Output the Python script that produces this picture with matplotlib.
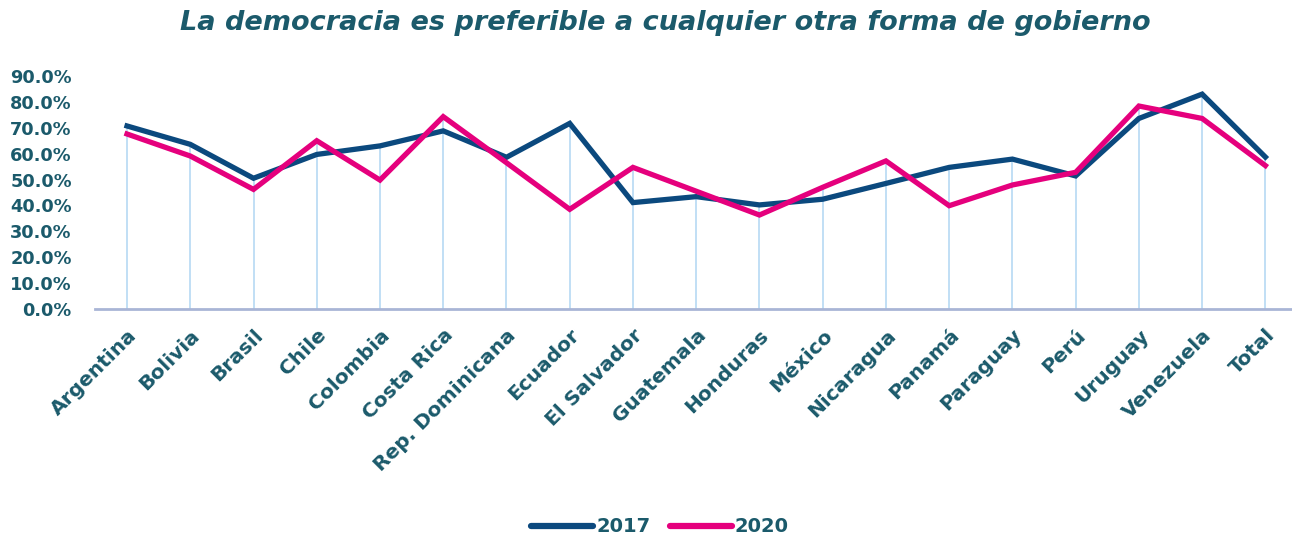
import matplotlib
matplotlib.use("Agg")
import matplotlib.pyplot as plt
from matplotlib.ticker import FuncFormatter
from matplotlib.lines import Line2D

plt.rcParams['font.family'] = ['DejaVu Sans']

countries = ["Argentina", "Bolivia", "Brasil", "Chile", "Colombia", "Costa Rica",
             "Rep. Dominicana", "Ecuador", "El Salvador", "Guatemala", "Honduras",
             "México", "Nicaragua", "Panamá", "Paraguay", "Perú", "Uruguay",
             "Venezuela", "Total"]
v2017 = [70.7, 63.6, 50.5, 59.7, 63.0, 68.8, 58.6, 71.7, 41.1, 43.4, 40.2,
         42.4, 48.5, 54.7, 57.9, 51.4, 73.6, 83.0, 58.7]
v2020 = [67.6, 59.1, 46.2, 65.0, 49.8, 74.3, 56.5, 38.5, 54.7, 45.5, 36.3,
         47.0, 57.2, 39.9, 47.9, 52.8, 78.4, 73.6, 55.4]
yticks = [0, 10, 20, 30, 40, 50, 60, 70, 80, 90]
series_names = ["2017", "2020"]

TEXT = "#1B5A6B"
BLUE = "#0B497E"
PINK = "#E5007D"
DROP = "#BCDCF5"
AXIS = "#A9B5D6"

W, H = 1292, 537
fig = plt.figure(figsize=(W / 100, H / 100), dpi=100)
x0, x1 = 95.4, 1297.0
yb, yt = 309.0, 76.0
ax = fig.add_axes([x0 / W, (H - yb) / H, (x1 - x0) / W, (yb - yt) / H])

xs = list(range(len(countries)))
tops = [max(a, b) for a, b in zip(v2017, v2020)]
ax.vlines(xs, 0, tops, color=DROP, lw=1.3, zorder=1)
ax.plot(xs, v2017, color=BLUE, lw=3.8, solid_joinstyle='miter', zorder=3, clip_on=False)
ax.plot(xs, v2020, color=PINK, lw=3.8, solid_joinstyle='miter', zorder=4, clip_on=False)

ax.set_xlim(-0.5, len(countries) - 0.5)
ax.set_ylim(0, 90)
ax.set_yticks(yticks)
ax.yaxis.set_major_formatter(FuncFormatter(lambda v, p: f"{v:.1f}%"))
ax.set_xticks(xs)
ax.set_xticklabels(countries, rotation=45, ha='right', rotation_mode='anchor')

for s in ['top', 'right', 'left']:
    ax.spines[s].set_visible(False)
ax.spines['bottom'].set_color(AXIS)
ax.spines['bottom'].set_linewidth(2)
ax.spines['bottom'].set_zorder(5)

ax.tick_params(axis='y', length=0, pad=17, labelsize=12.8, labelcolor=TEXT)
ax.tick_params(axis='x', length=0, pad=12, labelsize=14.5, labelcolor=TEXT)
for lab in ax.get_yticklabels() + ax.get_xticklabels():
    lab.set_fontweight('bold')

fig.text(665 / W, (H - 23) / H, "La democracia es preferible a cualquier otra forma de gobierno",
         ha='center', va='center', fontsize=19.5, fontweight='bold', style='italic', color=TEXT)

handles = [Line2D([], [], color=BLUE, lw=4.5, solid_capstyle='round'),
           Line2D([], [], color=PINK, lw=4.5, solid_capstyle='round')]
leg = fig.legend(handles, series_names, loc='center', bbox_to_anchor=(660 / W, (H - 527) / H),
                 ncol=2, frameon=False, handlelength=3.2, handletextpad=0.15,
                 columnspacing=1.0, prop={'weight': 'bold', 'size': 14})
for t in leg.get_texts():
    t.set_color(TEXT)

fig.savefig("out.png", dpi=100, facecolor='white')
